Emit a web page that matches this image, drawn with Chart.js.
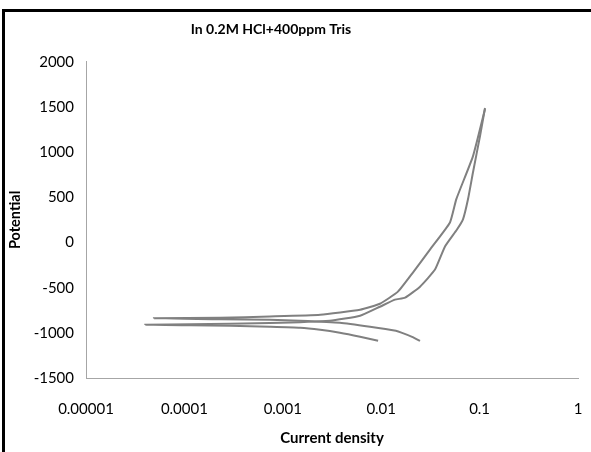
<!DOCTYPE html>
<html>
<head>
<meta charset="utf-8">
<script src="https://cdn.jsdelivr.net/npm/chart.js@4/dist/chart.umd.min.js"></script>
<style>
  body { margin: 0; background: #fff; }
  #wrap { position: relative; width: 591px; height: 452px; overflow: hidden; }
  #frame {
    position: absolute; left: 2px; top: 9px; width: 620px; height: 470px;
    border-left: 3px solid #000; border-top: 3px solid #000; pointer-events: none;
  }
  canvas { position: absolute; left: 0; top: 0; }
</style>
</head>
<body>
<div id="wrap">
  <canvas id="chart" width="591" height="452"></canvas>
  <div id="frame"></div>
</div>
<script>
// first scan: cathodic end -> corrosion potential -> anodic end
const current1 = [0.0093, 0.0061, 0.0038, 0.0024, 0.0015, 0.00074, 0.00029, 0.000114, 0.00004,
  0.000114, 0.00074, 0.0030, 0.0061, 0.0097, 0.0138, 0.0175, 0.0248, 0.0352, 0.0445, 0.0589,
  0.0678, 0.0762, 0.0857, 0.101, 0.1135];
const potential1 = [-1088, -1044, -1000, -967, -944, -933, -922, -917, -911,
  -906, -892, -867, -811, -711, -633, -611, -489, -300, -44, 144,
  256, 478, 778, 1178, 1489];

// second scan
const current2 = [0.0248, 0.0206, 0.0163, 0.0141, 0.0077, 0.0038, 0.0015, 0.00074, 0.00023, 0.000049,
  0.00023, 0.00074, 0.0024, 0.0061, 0.0097, 0.0148, 0.021, 0.0313, 0.05, 0.058, 0.0857, 0.1135];
const potential2 = [-1089, -1044, -1000, -978, -933, -889, -867, -856, -850, -839,
  -833, -819, -800, -744, -678, -544, -333, -78, 222, 480, 956, 1478];

const xTicks = [0.00001, 0.0001, 0.001, 0.01, 0.1, 1];
const xTickLabels = ['0.00001', '0.0001', '0.001', '0.01', '0.1', '1'];

const toPoints = (xs, ys) => xs.map((x, i) => ({ x: x, y: ys[i] }));

const lineStyle = {
  showLine: true,
  borderColor: '#808080',
  borderWidth: 2,
  pointRadius: 0,
  tension: 0.15,
  fill: false
};

// the original title sits a little left of the canvas centre
const shiftTitle = {
  id: 'shiftTitle',
  afterLayout(chart) {
    const t = chart.titleBlock;
    if (!t) return;
    t.left = 0;
    t.right = 542;
  }
};

new Chart(document.getElementById('chart'), {
  type: 'scatter',
  data: {
    datasets: [
      Object.assign({ label: 'Scan 1', data: toPoints(current1, potential1) }, lineStyle),
      Object.assign({ label: 'Scan 2', data: toPoints(current2, potential2) }, lineStyle)
    ]
  },
  plugins: [shiftTitle],
  options: {
    responsive: false,
    animation: false,
    layout: { padding: { left: 0, right: 13, top: 0, bottom: 0 } },
    scales: {
      x: {
        type: 'logarithmic',
        min: 0.00001,
        max: 1,
        grid: { display: false, drawTicks: false },
        border: { color: '#a6a6a6', width: 1 },
        afterBuildTicks: (scale) => {
          scale.ticks = xTicks.map(v => ({ value: v }));
        },
        afterFit: (scale) => {
          scale.height = 74;
          scale.paddingLeft = 0;
          scale.paddingRight = 0;
        },
        ticks: {
          color: '#000',
          padding: 22,
          maxRotation: 0,
          autoSkip: false,
          font: { family: 'Lato', size: 15 },
          callback: (value) => {
            const i = xTicks.indexOf(value);
            return i >= 0 ? xTickLabels[i] : '';
          }
        },
        title: {
          display: true,
          text: 'Current density',
          color: '#000',
          font: { family: 'Lato', size: 15, weight: 'bold' },
          padding: { top: 0, bottom: 5 }
        }
      },
      y: {
        min: -1500,
        max: 2000,
        grid: { display: false, drawTicks: false },
        border: { color: '#a6a6a6', width: 1 },
        afterFit: (scale) => { scale.width = 86; },
        ticks: {
          stepSize: 500,
          color: '#000',
          padding: 12,
          font: { family: 'Lato', size: 15 },
          callback: (value) => String(value)
        },
        title: {
          display: true,
          text: 'Potential',
          color: '#000',
          font: { family: 'Lato', size: 14.5, weight: 'bold' },
          padding: { top: 7, bottom: 0 }
        }
      }
    },
    plugins: {
      legend: { display: false },
      tooltip: { enabled: false },
      title: {
        display: true,
        text: 'In 0.2M HCl+400ppm Tris',
        color: '#000',
        font: { family: 'Lato', size: 14, weight: 'bold' },
        padding: { top: 21, bottom: 24 }
      }
    }
  }
});
</script>
</body>
</html>
